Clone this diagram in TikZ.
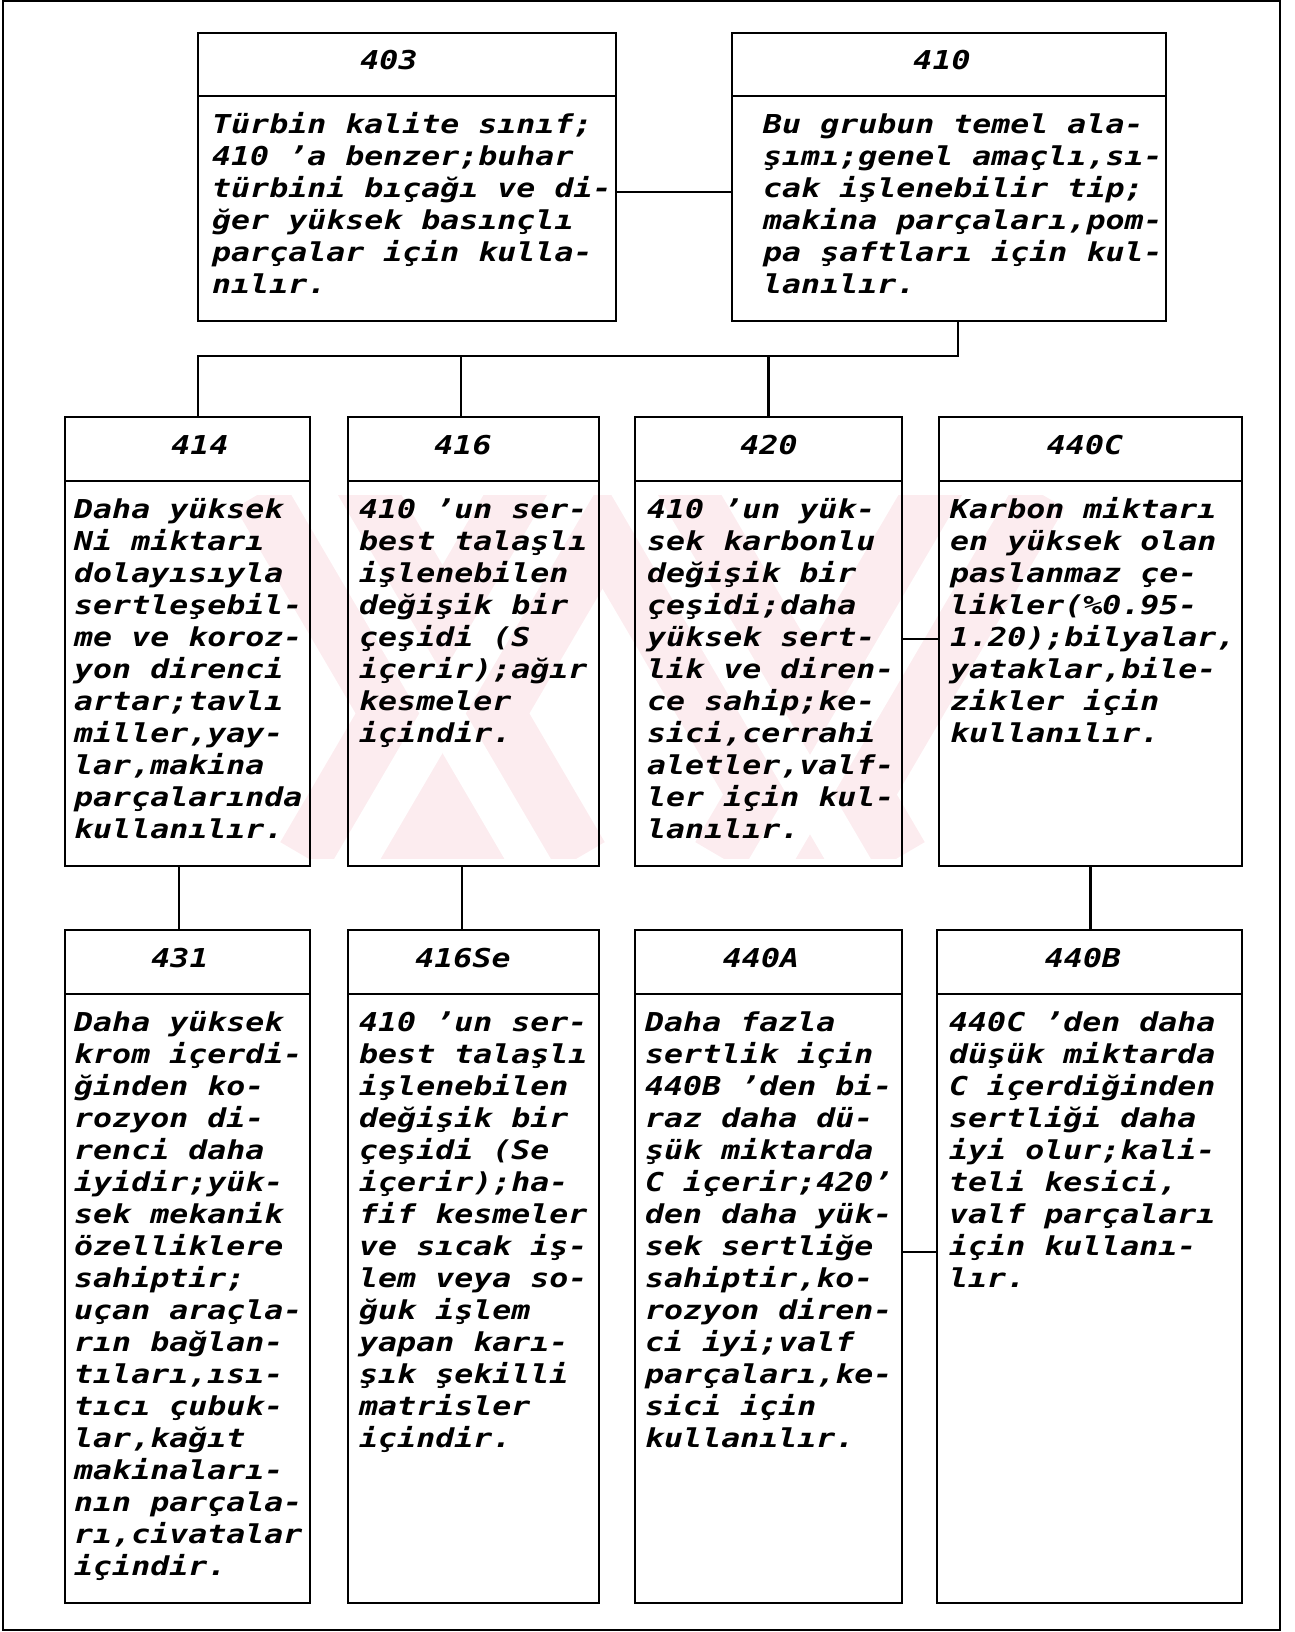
\documentclass[tikz,border=0pt]{standalone}
\usepackage{fontspec}
\newfontfamily\monofnt{DejaVu Sans Mono Bold Oblique}[FakeStretch=1.215]
\definecolor{wm}{RGB}{252,236,239}
\tikzset{
  box/.style={draw, line width=2.6pt, inner sep=0pt, outer sep=0pt, anchor=north west},
  hdr/.style={font=\monofnt\fontsize{26}{32}\selectfont, anchor=base, inner sep=0pt},
  body/.style={font=\monofnt\fontsize{26}{32}\selectfont, align=left, anchor=north west, inner sep=0pt},
  link/.style={line width=2.4pt},
  sep/.style={line width=2.6pt},
  arm/.style={wm, line width=150pt},
  stripe/.style={white, line width=40pt},
}
\newcommand{\fl}{\rule{0pt}{26pt}}
\begin{document}
\begin{tikzpicture}[x=1pt,y=-1pt]
\useasboundingbox (0,0) rectangle (1294,1632);
% watermark
\begin{scope}
  \clip (120,495) rectangle (1100,858);
  \draw[arm] (300,470) -- (540,880);
  \draw[arm] (585,470) -- (345,880);
  \draw[arm] (620,470) -- (860,880);
  \draw[arm] (1000,470) -- (760,880);
  \draw[stripe] (300,470) -- (540,880);
  \draw[stripe] (585,470) -- (345,880);
  \draw[stripe] (620,470) -- (860,880);
  \draw[stripe] (1000,470) -- (760,880);
\end{scope}
% outer frame
\draw[line width=2.4pt] (3,1) rectangle (1280,1630);
% boxes
\node[box, minimum width=418pt, minimum height=288pt] (n403) at (198,33) {};
\node[box, minimum width=434pt, minimum height=288pt] (n410) at (732,33) {};
\node[box, minimum width=245pt, minimum height=449pt] (n414) at (65,417) {};
\node[box, minimum width=251pt, minimum height=449pt] (n416) at (348,417) {};
\node[box, minimum width=267pt, minimum height=449pt] (n420) at (635,417) {};
\node[box, minimum width=303pt, minimum height=449pt] (n440C) at (939,417) {};
\node[box, minimum width=245pt, minimum height=673pt] (n431) at (65,930) {};
\node[box, minimum width=251pt, minimum height=673pt] (n416Se) at (348,930) {};
\node[box, minimum width=267pt, minimum height=673pt] (n440A) at (635,930) {};
\node[box, minimum width=305pt, minimum height=673pt] (n440B) at (937,930) {};
% header separators
\draw[sep] (198,96) -- (616,96);
\draw[sep] (732,96) -- (1166,96);
\draw[sep] (65,481) -- (310,481);
\draw[sep] (348,481) -- (599,481);
\draw[sep] (635,481) -- (902,481);
\draw[sep] (939,481) -- (1242,481);
\draw[sep] (65,994) -- (310,994);
\draw[sep] (348,994) -- (599,994);
\draw[sep] (635,994) -- (902,994);
\draw[sep] (937,994) -- (1242,994);
% headers
\node[hdr] (t403) at (389,70) {403};
\node[hdr] (t410) at (942,70) {410};
\node[hdr] (t414) at (200,454) {414};
\node[hdr] (t416) at (463,454) {416};
\node[hdr] (t420) at (769,454) {420};
\node[hdr] (t440C) at (1085,454) {440C};
\node[hdr] (t431) at (180,967) {431};
\node[hdr] (t416Se) at (463,967) {416Se};
\node[hdr] (t440A) at (761,967) {440A};
\node[hdr] (t440B) at (1083,967) {440B};
% bodies
\node[body] (b403) at (212,107) {\fl Türbin kalite sınıf;\\410 ’a benzer;buhar\\türbini bıçağı ve di-\\ğer yüksek basınçlı\\parçalar için kulla-\\nılır.};
\node[body] (b410) at (763,107) {\fl Bu grubun temel ala-\\şımı;genel amaçlı,sı-\\cak işlenebilir tip;\\makina parçaları,pom-\\pa şaftları için kul-\\lanılır.};
\node[body] (b414) at (74,492) {\fl Daha yüksek\\Ni miktarı\\dolayısıyla\\sertleşebil-\\me ve koroz-\\yon direnci\\artar;tavlı\\miller,yay-\\lar,makina\\parçalarında\\kullanılır.};
\node[body] (b416) at (359,492) {\fl 410 ’un ser-\\best talaşlı\\işlenebilen\\değişik bir\\çeşidi (S\\içerir);ağır\\kesmeler\\içindir.};
\node[body] (b420) at (647,492) {\fl 410 ’un yük-\\sek karbonlu\\değişik bir\\çeşidi;daha\\yüksek sert-\\lik ve diren-\\ce sahip;ke-\\sici,cerrahi\\aletler,valf-\\ler için kul-\\lanılır.};
\node[body] (b440C) at (950,492) {\fl Karbon miktarı\\en yüksek olan\\paslanmaz çe-\\likler(\%0.95-\\1.20);bilyalar,\\yataklar,bile-\\zikler için\\kullanılır.};
\node[body] (b431) at (74,1005) {\fl Daha yüksek\\krom içerdi-\\ğinden ko-\\rozyon di-\\renci daha\\iyidir;yük-\\sek mekanik\\özelliklere\\sahiptir;\\uçan araçla-\\rın bağlan-\\tıları,ısı-\\tıcı çubuk-\\lar,kağıt\\makinaları-\\nın parçala-\\rı,civatalar\\içindir.};
\node[body] (b416Se) at (359,1005) {\fl 410 ’un ser-\\best talaşlı\\işlenebilen\\değişik bir\\çeşidi (Se\\içerir);ha-\\fif kesmeler\\ve sıcak iş-\\lem veya so-\\ğuk işlem\\yapan karı-\\şık şekilli\\matrisler\\içindir.};
\node[body] (b440A) at (645,1005) {\fl Daha fazla\\sertlik için\\440B ’den bi-\\raz daha dü-\\şük miktarda\\C içerir;420’\\den daha yük-\\sek sertliğe\\sahiptir,ko-\\rozyon diren-\\ci iyi;valf\\parçaları,ke-\\sici için\\kullanılır.};
\node[body] (b440B) at (949,1005) {\fl 440C ’den daha\\düşük miktarda\\C içerdiğinden\\sertliği daha\\iyi olur;kali-\\teli kesici,\\valf parçaları\\için kullanı-\\lır.};
% connectors
\coordinate (busR) at (958,356);
\coordinate (busL) at (198,356);
\draw[link] ([yshift=-15pt]n403.east) -- ([yshift=-15pt]n410.west);
\draw[link] ([xshift=9pt]n410.south) -- (busR) -- (busL) -- ([xshift=10.5pt]n414.north);
\draw[link] ([xshift=-12.5pt]n416.north) -- ([xshift=-12.5pt]n416.north |- busL);
\draw[link] (n420.north) -- (n420.north |- busL);
\draw[link] ([xshift=-8.5pt]n414.south) -- ([xshift=-8.5pt]n414.south |- n431.north);
\draw[link] ([xshift=-11.5pt]n416.south) -- ([xshift=-11.5pt]n416.south |- n416Se.north);
\draw[link] (n440C.south) -- (n440C.south |- n440B.north);
\draw[link] ([yshift=2.5pt]n420.east) -- ([yshift=2.5pt]n420.east -| n440C.west);
\draw[link] ([yshift=14.5pt]n440A.east) -- ([yshift=14.5pt]n440A.east -| n440B.west);
\end{tikzpicture}
\end{document}
